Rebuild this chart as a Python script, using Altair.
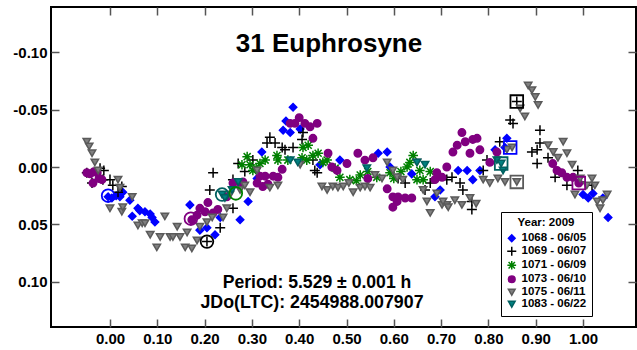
import altair as alt
import pandas as pd

TITLE = "31 Euphrosyne"
PERIOD_TEXT = "Period: 5.529 ± 0.001 h"
JD_TEXT = "JDo(LTC): 2454988.007907"
LEGEND_TITLE = "Year: 2009"

SESSIONS = ["1068 - 06/05", "1069 - 06/07", "1071 - 06/09", "1073 - 06/10", "1075 - 06/11", "1083 - 06/22"]
FILLS = ["#0000ff", "#000000", "#008000", "#800080", "#808080", "#008080"]
STROKES = ["#0000ff", "#000000", "#008000", "#800080", "#5a5a5a", "#006060"]
SHAPES = [
    "diamond",
    "M-1.35,0L1.35,0M0,-1.35L0,1.35",
    "M-1.3,0L1.3,0M0,-1.3L0,1.3M-0.95,-0.95L0.95,0.95M-0.95,0.95L0.95,-0.95",
    "circle",
    "triangle-down",
    "triangle-down",
]

X_TICKS = [0.0, 0.1, 0.2, 0.3, 0.4, 0.5, 0.6, 0.7, 0.8, 0.9, 1.0]
Y_TICKS = [-0.10, -0.05, 0.0, 0.05, 0.10]
X_DOMAIN = [-0.1247, 1.112]
Y_DOMAIN = [-0.1394, 0.1394]

# 1068 - 06/05
phase_1068 = [-0.004, 0.004, 0.013, 0.021, 0.027, 0.042, 0.047, 0.059, 0.063, 0.074,
              0.085, 0.089, 0.095, 0.169, 0.190, 0.205, 0.222, 0.233, 0.275, 0.292,
              0.311, 0.321, 0.366, 0.372, 0.381, 0.387, 0.402, 0.444, 0.486, 0.567,
              0.586, 0.592, 0.638, 0.687, 0.698, 0.736, 0.755, 0.767, 0.782, 0.814,
              0.835, 0.839, 1.000, 1.011, 1.021, 1.042, 1.053]
mag_1068 = [0.026, 0.027, 0.025, 0.026, 0.022, 0.029, 0.043, 0.036, 0.038, 0.039,
            0.041, 0.044, 0.048, 0.033, 0.055, 0.053, 0.059, 0.044, 0.046, 0.030,
            0.010, -0.013, -0.032, -0.040, -0.030, -0.052, -0.033, -0.002, -0.006, -0.012,
            -0.013, 0.000, 0.006, 0.026, 0.020, 0.003, 0.003, 0.011, 0.003, -0.015,
            -0.017, -0.025, 0.024, 0.027, 0.023, 0.027, 0.044]

# 1069 - 06/07
phase_1069 = [-0.049, -0.038, -0.021, -0.013, -0.015, 0.000, 0.006, 0.017, 0.025, 0.205,
              0.211, 0.218, 0.233, 0.260, 0.260, 0.271, 0.285, 0.302, 0.332, 0.338,
              0.349, 0.364, 0.370, 0.387, 0.406, 0.408, 0.429, 0.433, 0.438, 0.609,
              0.624, 0.666, 0.677, 0.712, 0.723, 0.740, 0.746, 0.765, 0.765, 0.789,
              0.797, 0.824, 0.846, 0.852, 0.860, 0.909, 0.909, 0.903, 0.892, 0.903,
              0.926, 0.941, 0.966, 0.989, 0.994, 1.019]
mag_1069 = [0.005, 0.014, 0.001, 0.003, 0.011, 0.011, 0.016, 0.022, 0.017, 0.065,
            0.020, 0.005, 0.053, 0.036, 0.011, -0.003, 0.004, -0.006, -0.021, -0.026,
            -0.021, -0.017, -0.015, -0.017, -0.024, -0.030, -0.006, 0.003, 0.005, 0.010,
            0.014, 0.020, 0.014, 0.011, 0.009, 0.014, 0.020, 0.030, 0.037, 0.003,
            -0.006, -0.022, -0.041, -0.038, -0.057, -0.032, -0.021, -0.015, -0.013, -0.003,
            -0.008, 0.009, 0.016, 0.003, 0.013, 0.016]

# 1071 - 06/09
phase_1071 = [0.279, 0.290, 0.296, 0.302, 0.309, 0.317, 0.328, 0.353, 0.355, 0.376,
              0.406, 0.408, 0.419, 0.416, 0.429, 0.459, 0.476, 0.486, 0.507, 0.529,
              0.564, 0.592, 0.628, 0.634, 0.641, 0.655, 0.649, 0.662, 0.677, 0.440,
              0.450, 0.521, 0.545, 0.600, 0.615]
mag_1071 = [-0.002, -0.009, -0.002, 0.003, 0.001, -0.003, -0.006, -0.010, -0.006, -0.006,
            -0.008, -0.017, -0.019, -0.006, -0.010, -0.006, 0.001, 0.009, 0.011, 0.007,
            0.009, 0.005, 0.000, -0.004, -0.010, 0.003, 0.011, 0.011, 0.004, -0.012,
            -0.004, 0.012, 0.004, 0.010, 0.004]

# 1073 - 06/10
phase_1073 = [-0.049, -0.042, -0.034, -0.027, -0.017, -0.036, -0.023, 0.173, 0.184, 0.190,
              0.201, 0.207, 0.218, 0.228, 0.247, 0.260, 0.275, 0.281, 0.311, 0.317,
              0.323, 0.328, 0.334, 0.345, 0.355, 0.364, 0.381, 0.391, 0.400, 0.412,
              0.423, 0.438, 0.429, 0.461, 0.469, 0.480, 0.501, 0.524, 0.539, 0.556,
              0.545, 0.586, 0.598, 0.609, 0.624, 0.638, 0.607, 0.598, 0.687, 0.691,
              0.702, 0.712, 0.725, 0.734, 0.744, 0.751, 0.761, 0.767, 0.776, 0.782,
              0.803, 0.818, 0.936, 0.945, 0.955, 0.966, 0.979, 0.991]
mag_1073 = [0.005, 0.006, 0.004, 0.005, 0.011, 0.014, 0.010, 0.046, 0.042, 0.036,
            0.039, 0.031, 0.040, 0.037, 0.026, 0.014, 0.014, 0.013, 0.014, 0.008,
            0.017, 0.008, 0.015, 0.008, 0.009, 0.002, -0.038, -0.038, -0.043, -0.038,
            -0.035, -0.038, -0.025, -0.012, 0.000, 0.003, -0.003, -0.012, -0.006, -0.008,
            0.010, 0.019, 0.026, 0.026, 0.027, 0.027, 0.030, 0.035, 0.011, 0.005,
            0.009, 0.000, -0.013, -0.019, -0.030, -0.022, -0.012, -0.024, -0.025, -0.015,
            -0.004, -0.013, -0.003, 0.003, 0.005, 0.009, 0.009, 0.014]

# 1075 - 06/11
phase_1075 = [-0.049, -0.044, -0.038, -0.032, -0.025, 0.000, 0.017, 0.021, 0.025, 0.027,
              0.047, 0.059, 0.068, 0.074, 0.085, 0.099, 0.106, 0.116, 0.127, 0.133,
              0.142, 0.148, 0.159, 0.163, 0.173, 0.184, 0.190, 0.205, 0.216, 0.239,
              0.247, 0.254, 0.275, 0.285, 0.296, 0.311, 0.338, 0.355, 0.402, 0.448,
              0.459, 0.471, 0.482, 0.493, 0.505, 0.514, 0.529, 0.539, 0.550, 0.560,
              0.575, 0.586, 0.598, 0.607, 0.619, 0.649, 0.662, 0.670, 0.677, 0.691,
              0.702, 0.712, 0.704, 0.715, 0.729, 0.744, 0.761, 0.774, 0.789, 0.803,
              0.820, 0.835, 0.850, 0.839, 0.860, 0.867, 0.877, 0.884, 0.892, 0.899,
              0.905, 0.926, 0.937, 0.947, 0.958, 0.966, 0.977, 0.983, 0.994, 1.008,
              1.019, 1.025, 1.030, 1.036, 1.042, 1.051]
mag_1075 = [-0.022, -0.018, -0.012, -0.004, 0.003, 0.036, 0.011, 0.018, 0.039, 0.035,
            0.026, 0.051, 0.049, 0.049, 0.059, 0.070, 0.061, 0.043, 0.061, 0.061,
            0.052, 0.061, 0.070, 0.057, 0.071, 0.064, 0.052, 0.048, 0.044, 0.044,
            0.036, 0.024, 0.020, 0.016, 0.022, 0.003, 0.018, 0.016, -0.002, 0.017,
            0.020, 0.017, 0.018, 0.017, 0.014, 0.022, 0.018, 0.017, 0.018, 0.007,
            0.010, -0.004, 0.003, 0.009, 0.011, -0.004, 0.020, 0.030, 0.040, 0.023,
            0.033, 0.033, 0.030, 0.035, 0.029, 0.033, 0.027, 0.032, 0.011, 0.014,
            0.010, 0.013, -0.017, -0.015, 0.013, -0.051, -0.044, -0.071, -0.067, -0.061,
            -0.054, -0.019, -0.013, -0.008, -0.022, -0.012, -0.002, 0.024, 0.010, 0.016,
            0.010, 0.016, 0.030, 0.036, 0.029, 0.024]

# 1083 - 06/22
phase_1083 = [0.237, 0.243, 0.258, 0.271, 0.381, 0.397, 0.543, 0.649, 0.666, 0.818, 0.827, 0.831]
mag_1083 = [0.024, 0.027, 0.020, 0.013, -0.006, -0.004, 0.001, -0.004, -0.002, -0.006, -0.003, 0.003]

# session start / end markers
mark_phase = [-0.004, 0.171, 0.205, 0.237, 0.266, 0.860, 0.846, 0.827, 0.860, 0.991]
mark_mag = [0.025, 0.045, 0.065, 0.024, 0.023, -0.057, -0.017, -0.003, 0.013, 0.014]
mark_session = [0, 3, 1, 5, 2, 1, 0, 5, 4, 3]
mark_shape = ["circle", "circle", "circle", "circle", "circle",
              "square", "square", "square", "square", "square"]

all_phase = [phase_1068, phase_1069, phase_1071, phase_1073, phase_1075, phase_1083]
all_mag = [mag_1068, mag_1069, mag_1071, mag_1073, mag_1075, mag_1083]

rows = []
for i, (ph, mg) in enumerate(zip(all_phase, all_mag)):
    for p, m in zip(ph, mg):
        rows.append({"phase": p, "mag": m, "session": SESSIONS[i], "idx": len(rows)})
df = pd.DataFrame(rows)

FONT = "Liberation Sans"
xscale = alt.Scale(domain=X_DOMAIN, nice=False, zero=False)
yscale = alt.Scale(domain=Y_DOMAIN, reverse=True, nice=False, zero=False)
label_expr = "(datum.value < 0 ? '-' : '') + format(abs(datum.value), '.2f')"

tick_style = dict(domain=False, ticks=True, tickSize=8, offset=-8, grid=False, title=None,
                  tickColor="#555555", tickWidth=1.5)
x_bottom = alt.Axis(orient="bottom", values=X_TICKS, labelExpr=label_expr, labelPadding=4, **tick_style)
y_left = alt.Axis(orient="left", values=Y_TICKS, labelExpr=label_expr, labelPadding=4, **tick_style)
x_top = alt.Axis(orient="top", values=X_TICKS, labels=False, **tick_style)
y_right = alt.Axis(orient="right", values=Y_TICKS, labels=False, **tick_style)

legend = alt.Legend(
    title=LEGEND_TITLE, orient="none", legendX=450, legendY=205,
    fillColor="white", strokeColor="black", padding=5,
    titleFont=FONT, titleFontSize=11.5, titleFontWeight="bold", titleColor="black",
    titleAnchor="middle", titlePadding=4,
    labelFont=FONT, labelFontSize=11.5, labelFontWeight="bold", labelColor="black",
    symbolSize=45, symbolStrokeWidth=1.5, rowPadding=-3.3, labelOffset=4,
)

pts = alt.Chart(df).mark_point(filled=True, size=55, strokeWidth=1.5, opacity=1).encode(
    x=alt.X("phase:Q", scale=xscale, axis=x_bottom),
    y=alt.Y("mag:Q", scale=yscale, axis=y_left),
    fill=alt.Fill("session:N", scale=alt.Scale(domain=SESSIONS, range=FILLS), legend=legend),
    stroke=alt.Stroke("session:N", scale=alt.Scale(domain=SESSIONS, range=STROKES), legend=legend),
    shape=alt.Shape("session:N", scale=alt.Scale(domain=SESSIONS, range=SHAPES), legend=legend),
    order=alt.Order("idx:Q"),
)

marker_layers = []
for k, (p, m, s, sh) in enumerate(zip(mark_phase, mark_mag, mark_session, mark_shape)):
    mdf = pd.DataFrame({"phase": [p], "mag": [m]})
    enc = dict(
        x=alt.X("phase:Q", scale=xscale, axis=x_top if k == 0 else None),
        y=alt.Y("mag:Q", scale=yscale, axis=y_right if k == 0 else None),
    )
    marker_layers.append(
        alt.Chart(mdf).mark_point(shape=sh, filled=False, size=160, strokeWidth=1.8,
                                  color=STROKES[s], opacity=1).encode(**enc)
    )

shadow = alt.Chart(pd.DataFrame({"a": [0]})).mark_rect(color="black").encode(
    x=alt.value(452), x2=alt.value(539.5), y=alt.value(207), y2=alt.value(306.5)
)

def text_layer(txt, x, y, size):
    return alt.Chart(pd.DataFrame({"t": [txt]})).mark_text(
        font=FONT, fontWeight="bold", fontSize=size, align="center",
        baseline="alphabetic", color="black"
    ).encode(x=alt.value(x), y=alt.value(y), text="t:N")

texts = [
    text_layer(TITLE, 278, 44.5, 26),
    text_layer(PERIOD_TEXT, 266, 281, 17.6),
    text_layer(JD_TEXT, 261, 301, 17.8),
]

chart = alt.layer(shadow, pts, *marker_layers, *texts).properties(
    width=585, height=320,
    padding={"left": 51, "top": 7, "right": 1, "bottom": 23},
    autosize=alt.AutoSizeParams(type="none"),
    background="white",
).configure_view(stroke="black", strokeWidth=2).configure_axis(
    labelFont=FONT, labelFontSize=15, labelFontWeight="bold", labelColor="black"
)

chart.save("out.html", embed_options={"renderer": "svg", "actions": False})
